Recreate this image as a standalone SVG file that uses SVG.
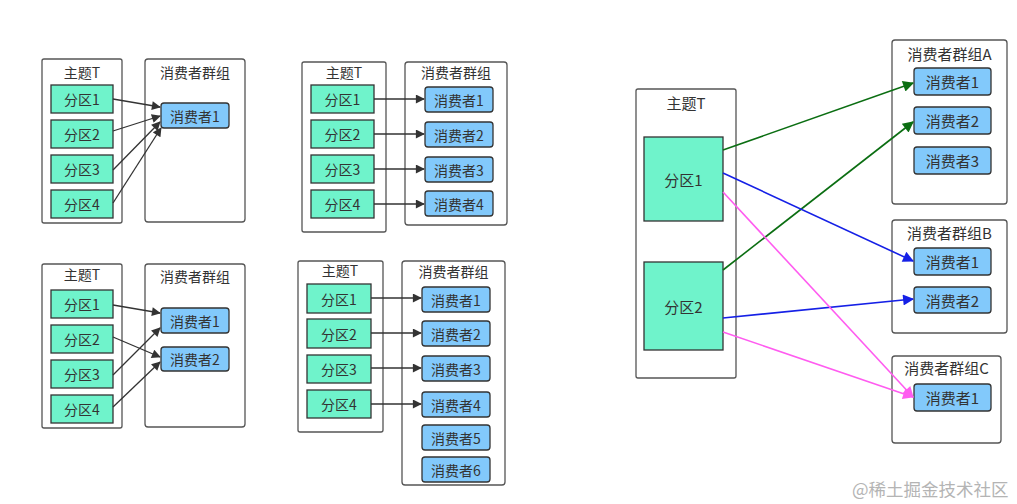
<svg xmlns="http://www.w3.org/2000/svg" width="1017" height="504" viewBox="0 0 1017 504">
<defs>
<style>
text{font-family:"Noto Sans CJK SC","Liberation Sans",sans-serif;font-size:14px;fill:#333;text-anchor:middle;dominant-baseline:central}
.box{fill:#fff;stroke:#555;stroke-width:1.3}
.part{fill:#6ff3cb;stroke:#333;stroke-width:1.3}
.cons{fill:#82c9fb;stroke:#333;stroke-width:1.3}
.c{fill:none;stroke:#333;stroke-width:1.3}
.g{fill:none;stroke:#0b6e12;stroke-width:1.6}
.b{fill:none;stroke:#1520e6;stroke-width:1.6}
.p{fill:none;stroke:#ff5cf0;stroke-width:1.6}
.big{font-size:15px}
.wm{fill:#b4b4b4;font-size:17.5px;text-anchor:start}
</style>
<marker id="ak" viewBox="0 0 10 10" refX="9" refY="5" markerWidth="11" markerHeight="9" markerUnits="userSpaceOnUse" orient="auto"><path d="M0,0L10,5L0,10z" fill="#333"/></marker>
<marker id="ag" viewBox="0 0 10 10" refX="9" refY="5" markerWidth="13" markerHeight="11" markerUnits="userSpaceOnUse" orient="auto"><path d="M0,0L10,5L0,10z" fill="#0b6e12"/></marker>
<marker id="ab" viewBox="0 0 10 10" refX="9" refY="5" markerWidth="13" markerHeight="11" markerUnits="userSpaceOnUse" orient="auto"><path d="M0,0L10,5L0,10z" fill="#1520e6"/></marker>
<marker id="ap" viewBox="0 0 10 10" refX="9" refY="5" markerWidth="13" markerHeight="11" markerUnits="userSpaceOnUse" orient="auto"><path d="M0,0L10,5L0,10z" fill="#ff5cf0"/></marker>
</defs>
<rect width="1017" height="504" fill="#fff"/>

<!-- Panel 1 -->
<g id="p1-topic"><rect class="box" x="42" y="59" width="80" height="164" rx="2"/><text x="82" y="72">主题T</text></g>
<g id="p1-part1"><rect class="part" x="51" y="85" width="62" height="28"/><text x="82" y="99">分区1</text></g>
<g id="p1-part2"><rect class="part" x="51" y="120" width="62" height="28"/><text x="82" y="134">分区2</text></g>
<g id="p1-part3"><rect class="part" x="51" y="155" width="62" height="28"/><text x="82" y="169">分区3</text></g>
<g id="p1-part4"><rect class="part" x="51" y="190" width="62" height="28"/><text x="82" y="204">分区4</text></g>
<g id="p1-group"><rect class="box" x="145" y="59" width="100" height="163" rx="3"/><text x="195" y="72">消费者群组</text></g>
<g id="p1-cons1"><rect class="cons" x="161" y="103" width="68" height="25" rx="3"/><text x="195" y="115.5">消费者1</text></g>

<!-- Panel 2 -->
<g id="p2-topic"><rect class="box" x="302" y="62" width="84" height="170" rx="2"/><text x="344" y="72">主题T</text></g>
<g id="p2-part1"><rect class="part" x="311" y="85" width="63" height="28"/><text x="342.5" y="99">分区1</text></g>
<g id="p2-part2"><rect class="part" x="311" y="120" width="63" height="28"/><text x="342.5" y="134">分区2</text></g>
<g id="p2-part3"><rect class="part" x="311" y="155" width="63" height="28"/><text x="342.5" y="169">分区3</text></g>
<g id="p2-part4"><rect class="part" x="311" y="190" width="63" height="28"/><text x="342.5" y="204">分区4</text></g>
<g id="p2-group"><rect class="box" x="405" y="62" width="102" height="163" rx="3"/><text x="456" y="72">消费者群组</text></g>
<g id="p2-cons1"><rect class="cons" x="425" y="87" width="68" height="25" rx="3"/><text x="459" y="99.5">消费者1</text></g>
<g id="p2-cons2"><rect class="cons" x="425" y="122" width="68" height="25" rx="3"/><text x="459" y="134.5">消费者2</text></g>
<g id="p2-cons3"><rect class="cons" x="425" y="157" width="68" height="25" rx="3"/><text x="459" y="169.5">消费者3</text></g>
<g id="p2-cons4"><rect class="cons" x="425" y="191" width="68" height="25" rx="3"/><text x="459" y="203.5">消费者4</text></g>

<!-- Panel 3 -->
<g id="p3-topic"><rect class="box" x="42" y="264" width="80" height="164" rx="2"/><text x="82" y="274">主题T</text></g>
<g id="p3-part1"><rect class="part" x="51" y="290" width="62" height="28"/><text x="82" y="304">分区1</text></g>
<g id="p3-part2"><rect class="part" x="51" y="325" width="62" height="28"/><text x="82" y="339">分区2</text></g>
<g id="p3-part3"><rect class="part" x="51" y="360" width="62" height="28"/><text x="82" y="374">分区3</text></g>
<g id="p3-part4"><rect class="part" x="51" y="395" width="62" height="28"/><text x="82" y="409">分区4</text></g>
<g id="p3-group"><rect class="box" x="145" y="264" width="100" height="163" rx="3"/><text x="195" y="276">消费者群组</text></g>
<g id="p3-cons1"><rect class="cons" x="161" y="308" width="68" height="25" rx="3"/><text x="195" y="320.5">消费者1</text></g>
<g id="p3-cons2"><rect class="cons" x="161" y="347" width="68" height="24" rx="3"/><text x="195" y="359">消费者2</text></g>

<!-- Panel 4 -->
<g id="p4-topic"><rect class="box" x="298" y="261" width="85" height="171" rx="2"/><text x="340" y="270">主题T</text></g>
<g id="p4-part1"><rect class="part" x="307" y="284" width="64" height="29"/><text x="339" y="298.5">分区1</text></g>
<g id="p4-part2"><rect class="part" x="307" y="319" width="64" height="29"/><text x="339" y="333.5">分区2</text></g>
<g id="p4-part3"><rect class="part" x="307" y="355" width="64" height="28"/><text x="339" y="369">分区3</text></g>
<g id="p4-part4"><rect class="part" x="307" y="390" width="64" height="28"/><text x="339" y="404">分区4</text></g>
<g id="p4-group"><rect class="box" x="402" y="261" width="103" height="224" rx="3"/><text x="453.5" y="271">消费者群组</text></g>
<g id="p4-cons1"><rect class="cons" x="422" y="287" width="68" height="25" rx="3"/><text x="456" y="299.5">消费者1</text></g>
<g id="p4-cons2"><rect class="cons" x="422" y="321" width="68" height="25" rx="3"/><text x="456" y="333.5">消费者2</text></g>
<g id="p4-cons3"><rect class="cons" x="422" y="356" width="68" height="25" rx="3"/><text x="456" y="368.5">消费者3</text></g>
<g id="p4-cons4"><rect class="cons" x="422" y="392" width="68" height="25" rx="3"/><text x="456" y="404.5">消费者4</text></g>
<g id="p4-cons5"><rect class="cons" x="422" y="425" width="68" height="25" rx="3"/><text x="456" y="437.5">消费者5</text></g>
<g id="p4-cons6"><rect class="cons" x="422" y="457" width="68" height="25" rx="3"/><text x="456" y="469.5">消费者6</text></g>

<!-- Panel 5 -->
<g id="p5-topic"><rect class="box" x="636" y="89" width="100" height="289" rx="2"/><text class="big" x="686" y="102">主题T</text></g>
<g id="p5-part1"><rect class="part" x="644" y="137" width="79" height="84"/><text class="big" x="683.5" y="179">分区1</text></g>
<g id="p5-part2"><rect class="part" x="644" y="262" width="79" height="88"/><text class="big" x="683.5" y="306">分区2</text></g>
<g id="p5-groupA"><rect class="box" x="892" y="40" width="115" height="164" rx="3"/><text class="big" x="949.5" y="53">消费者群组A</text></g>
<g id="p5-A1"><rect class="cons" x="914" y="68" width="77" height="27" rx="3"/><text class="big" x="952.5" y="81.5">消费者1</text></g>
<g id="p5-A2"><rect class="cons" x="914" y="107" width="77" height="27" rx="3"/><text class="big" x="952.5" y="120.5">消费者2</text></g>
<g id="p5-A3"><rect class="cons" x="914" y="147" width="77" height="27" rx="3"/><text class="big" x="952.5" y="160.5">消费者3</text></g>
<g id="p5-groupB"><rect class="box" x="892" y="220" width="115" height="113" rx="3"/><text class="big" x="949.5" y="232">消费者群组B</text></g>
<g id="p5-B1"><rect class="cons" x="914" y="248" width="77" height="27" rx="3"/><text class="big" x="952.5" y="261.5">消费者1</text></g>
<g id="p5-B2"><rect class="cons" x="914" y="287" width="77" height="26" rx="3"/><text class="big" x="952.5" y="300">消费者2</text></g>
<g id="p5-groupC"><rect class="box" x="892" y="356" width="109" height="87" rx="3"/><text class="big" x="946.5" y="367">消费者群组C</text></g>
<g id="p5-C1"><rect class="cons" x="914" y="384" width="77" height="27" rx="3"/><text class="big" x="952.5" y="397.5">消费者1</text></g>

<g id="connectors">
<path class="c" d="M113,99L160,107" marker-end="url(#ak)"/>
<path class="c" d="M113,131L160,116" marker-end="url(#ak)"/>
<path class="c" d="M113,170L160,122" marker-end="url(#ak)"/>
<path class="c" d="M113,203L161,128" marker-end="url(#ak)"/>

<path class="c" d="M374,99L424,99" marker-end="url(#ak)"/>
<path class="c" d="M374,134L424,134" marker-end="url(#ak)"/>
<path class="c" d="M374,169L424,169" marker-end="url(#ak)"/>
<path class="c" d="M374,204L424,204" marker-end="url(#ak)"/>

<path class="c" d="M113,305L160,313" marker-end="url(#ak)"/>
<path class="c" d="M113,337L160,357" marker-end="url(#ak)"/>
<path class="c" d="M113,375L160,328" marker-end="url(#ak)"/>
<path class="c" d="M113,407L160,362" marker-end="url(#ak)"/>

<path class="c" d="M371,298L421,298" marker-end="url(#ak)"/>
<path class="c" d="M371,333L421,333" marker-end="url(#ak)"/>
<path class="c" d="M371,368L421,368" marker-end="url(#ak)"/>
<path class="c" d="M371,404L421,404" marker-end="url(#ak)"/>

<path class="g" d="M723,150L913,83" marker-end="url(#ag)"/>
<path class="g" d="M723,270L913,122" marker-end="url(#ag)"/>
<path class="b" d="M723,173L913,261" marker-end="url(#ab)"/>
<path class="b" d="M723,318L913,299" marker-end="url(#ab)"/>
<path class="p" d="M723,192L913,397" marker-end="url(#ap)"/>
<path class="p" d="M723,332L913,397" marker-end="url(#ap)"/>
</g>

<text class="wm" x="852" y="488">@稀土掘金技术社区</text>
</svg>
